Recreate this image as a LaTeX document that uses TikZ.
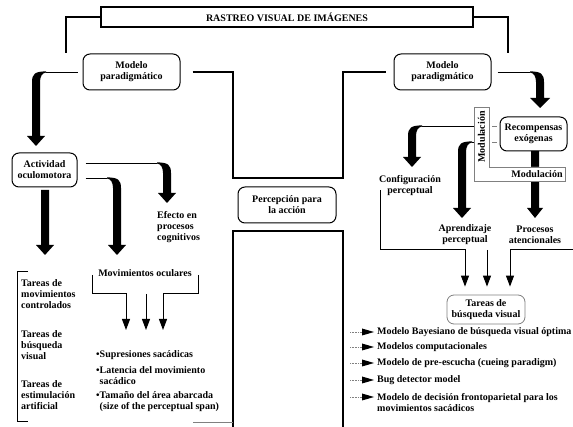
\documentclass[tikz,border=0pt]{standalone}
\usepackage{fontspec}
\setmainfont{Liberation Serif}
\usetikzlibrary{arrows.meta}
% #1 bar centre x, #2 thin-line y, #3 tip y, #4 side (+1 line on right, -1 line on left), #5 head half width
\newcommand{\fatarrow}[5]{%
  \fill ({#1+(#4)*10},{#2-0.6}) .. controls ({#1-(#4)*1},{#2-0.6}) and ({#1-(#4)*4},{#2+2}) .. ({#1-(#4)*4},{#2+10})
     -- ({#1-(#4)*4},{#3-10}) -- ({#1-(#4)*#5},{#3-10}) -- (#1,#3) -- ({#1+(#4)*#5},{#3-10})
     -- ({#1+(#4)*4},{#3-10}) -- ({#1+(#4)*4},{#2+10})
     .. controls ({#1+(#4)*4},{#2+5}) and ({#1+(#4)*6},{#2+0.6}) .. ({#1+(#4)*10},{#2+0.6}) -- cycle;}
% #1 centre x, #2 top y, #3 tip y, #4 head half width
\newcommand{\fatdown}[4]{%
  \fill ({#1-4},#2) -- ({#1-4},{#3-10}) -- ({#1-#4},{#3-10}) -- (#1,#3) -- ({#1+#4},{#3-10})
     -- ({#1+4},{#3-10}) -- ({#1+4},#2) -- cycle;}
\begin{document}
\begin{tikzpicture}[x=1pt,y=-1pt,
  every node/.style={font=\bfseries\fontsize{10}{11}\selectfont, inner sep=0pt},
  rbox/.style={draw, line width=1pt, rounded corners=7pt, align=center},
  frame/.style={line width=1.2pt},
  thinln/.style={line width=0.8pt},
  arr/.style={line width=1pt, -{Triangle[width=8pt,length=11pt]}},
  grayln/.style={draw=gray, line width=0.6pt},
  lst/.style={anchor=west, align=left}]
\useasboundingbox (0,0) rectangle (573,427);

% nodes
\node[draw, line width=1.5pt, minimum width=372, minimum height=20] (title) at (287,17) {RASTREO VISUAL DE IMÁGENES};
\node[rbox, minimum width=97, minimum height=36] (mpL) at (131.5,72) {Modelo\\paradigmático};
\node[rbox, minimum width=97, minimum height=36] (mpR) at (442.5,72) {Modelo\\paradigmático};
\node[rbox, minimum width=65, minimum height=34] (act) at (44.5,170) {Actividad\\oculomotora};
\node[rbox, minimum width=98, minimum height=36] (per) at (287,205) {Percepción para\\la acción};
\node[rbox, minimum width=67, minimum height=34] (rec) at (533.5,134) {Recompensas\\exógenas};
\node[rbox, draw=gray, line width=0.8pt, minimum width=78, minimum height=29] (tar) at (486,309.5) {Tareas de\\búsqueda visual};

% frame connectors
\coordinate (tl) at (66,53);
\coordinate (tr) at (508,53);
\draw[frame] (title.west) -| (tl);
\draw[frame] (title.east) -| (tr);
\draw[frame, shorten <=12pt, shorten >=8pt] (mpL.east) -- (233,72) -- (233,178) -- (343,178) -- (343,72) -- (mpR.west);
\coordinate (bl) at (233,427);
\coordinate (br) at (343,427);
\draw[frame] (bl) -- (233,231) -- (343,231) -- (br);
\draw[grayln] (193,422) -- (233,422);

% left fat arrows
\draw[thinln, shorten <=5pt] (mpL.west) -- (46,72);
\fatarrow{36}{72}{146}{1}{9}
\draw[thinln, shorten <=8pt] (act.east |- 0,163) -- (157,163);
\fatarrow{167}{163}{203}{-1}{9}
\draw[thinln, shorten <=8pt] (act.east |- 0,178) -- (107,178);
\fatarrow{117}{178}{255}{-1}{9}
\fatdown{45}{190}{255}{9}

% right fat arrows
\draw[thinln, shorten <=6pt] (mpR.east) -- (530,72);
\fatarrow{540}{72}{108}{-1}{10}
\fatdown{535}{151}{218}{8}

% modulation L box
\draw[gray, line width=0.8pt, fill=white] (474,107) -- (489,107) -- (489,167) -- (565,167) -- (565,181) -- (474,181) -- cycle;
\node[rotate=90] (modv) at (481.5,137) {Modulación};
\node (modh) at (537,174) {Modulación};
\draw[grayln] (492,126) -- (497,126);
\draw[grayln] (492,142) -- (497,142);
\draw[thinln] (474,126) -- (422,126);
\fatarrow{412}{126}{167}{1}{9}
\draw[thinln] (474,142) -- (472,142);
\fatarrow{462}{142}{218}{1}{9}

\node[align=center] (conf) at (410,185.5) {Configuración\\perceptual};
\node[align=center] (apr) at (465,234.5) {Aprendizaje\\perceptual};
\node[align=center] (pro) at (535,234.5) {Procesos\\atencionales};

% arrows into Tareas de busqueda visual
\draw[arr, shorten >=8pt] (380,190) -- (380,250) -- (465,250) -- (465,0 |- tar.north);
\draw[arr, shorten >=8pt] (487,250) -- (487,0 |- tar.north);
\draw[arr, shorten >=8pt] (573,250) -- (510,250) -- (510,0 |- tar.north);

% left lower part
\node (efe) [lst] at (157,227) {Efecto en\\procesos\\cognitivos};
\node (mov) at (145,273) {Movimientos oculares};
\draw[arr] (92,275) -- (92,294) -- (126,294) -- (126,330);
\draw[arr] (146,294) -- (146,330);
\draw[arr] (198,275) -- (198,294) -- (163,294) -- (163,330);

\draw[thinln] (28,271) -- (17,271) -- (17,421) -- (28,421);
\node (t1) [lst] at (21,294.5) {Tareas de\\movimientos\\controlados};
\node (t2) [lst] at (21,345) {Tareas de\\búsqueda\\visual};
\node (t3) [lst] at (21,395.5) {Tareas de\\estimulación\\artificial};

\node (b1) [anchor=base west] at (96,358) {\textbullet Supresiones sacádicas};
\node (b2) [anchor=base west] at (96,374) {\textbullet\begin{tabular}[t]{@{}l@{}}Latencia del movimiento\\sacádico\end{tabular}};
\node (b3) [anchor=base west] at (96,399) {\textbullet\begin{tabular}[t]{@{}l@{}}Tamaño del área abarcada\\(size of the perceptual span)\end{tabular}};

% right list
\foreach \yy/\nm in {332/m1,347/m2,363/m3,380/m4,397/m5}{
  \draw[gray, densely dotted, line width=0.6pt] (350,\yy) -- (362,\yy);
  \fill (362,\yy-3.5) -- (374,\yy) -- (362,\yy+3.5) -- cycle;
}
\node (l1) [lst] at (377,332) {Modelo Bayesiano de búsqueda visual óptima};
\node (l2) [lst] at (377,347) {Modelos computacionales};
\node (l3) [lst] at (377,363) {Modelo de pre-escucha (cueing paradigm)};
\node (l4) [lst] at (377,380) {Bug detector model};
\node (l5) [lst] at (377,402.5) {Modelo de decisión frontoparietal para los\\movimientos sacádicos};
\end{tikzpicture}
\end{document}
